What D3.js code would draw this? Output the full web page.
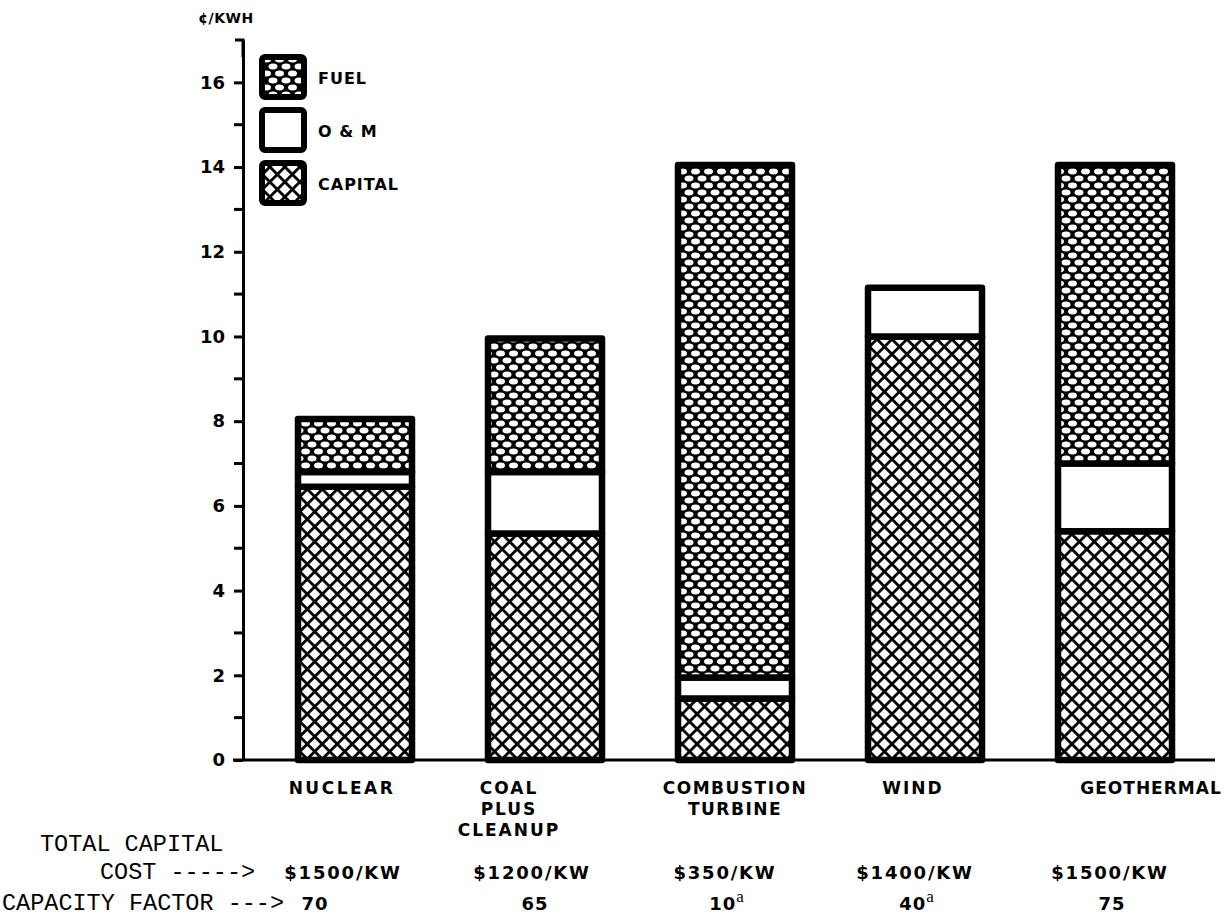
<!DOCTYPE html>
<html>
<head>
<meta charset="utf-8">
<script src="https://cdn.jsdelivr.net/npm/d3@7"></script>
<style>
  html, body { margin: 0; padding: 0; background: #fff; }
  svg { display: block; }
  .sans { font-family: "DejaVu Sans", "Liberation Sans", sans-serif; font-weight: bold; }
  .mono { font-family: "Liberation Mono", "DejaVu Sans Mono", monospace; }
</style>
</head>
<body>
<svg id="chart" width="1228" height="919"></svg>
<script>
// ---------------- data ----------------
const categories = ["NUCLEAR", "COAL PLUS CLEANUP", "COMBUSTION TURBINE", "WIND", "GEOTHERMAL"];
const categoryLines = [["NUCLEAR"], ["COAL", "PLUS", "CLEANUP"], ["COMBUSTION", "TURBINE"], ["WIND"], ["GEOTHERMAL"]];
const capital = [6.45, 5.35, 1.45, 10.0, 5.4];
const om      = [0.35, 1.45, 0.5, 1.15, 1.6];
const fuel    = [1.25, 3.15, 12.1, 0, 7.05];
const seriesKeys = ["capital", "om", "fuel"];
const legendLabels = ["FUEL", "O & M", "CAPITAL"];
const legendKeys = ["fuel", "om", "capital"];
const yTickValues = [0, 2, 4, 6, 8, 10, 12, 14, 16];
const yMinorTicks = [1, 3, 5, 7, 9, 11, 13, 15];
const capitalCost = ["$1500/KW", "$1200/KW", "$350/KW", "$1400/KW", "$1500/KW"];
const capacityFactor = ["70", "65", "10", "40", "75"];
const capacityNote = ["", "", "a", "a", ""];
const unitLabel = "\u00A2/KWH";

// ---------------- layout ----------------
const labelOffset = [-13, -36, 0, -12, 36];
const labelSpacing = [2.5, 2, 1.5, 2, 1];
const costOffset = [-12, -13, -10, -10, -5];
const cfOffset = [-40, -10, -8, -8, -3];

const svg = d3.select("#chart");
svg.append("rect").attr("width", 1228).attr("height", 919).attr("fill", "#fff");

const x = d3.scaleBand().domain(categories).range([260, 1210]).paddingInner(0.4).paddingOuter(0.2);
const y = d3.scaleLinear().domain([0, 17]).range([760, 40]);

// ---------------- patterns ----------------
const defs = svg.append("defs");
const pf = defs.append("pattern").attr("id", "pFuel").attr("patternUnits", "userSpaceOnUse")
  .attr("width", 13).attr("height", 14);
pf.append("rect").attr("width", 13).attr("height", 14).attr("fill", "#000");
[[6.5, 3.5], [0, 10.5], [13, 10.5]].forEach(([cx, cy]) => {
  pf.append("ellipse").attr("cx", cx).attr("cy", cy).attr("rx", 4.5).attr("ry", 2.9).attr("fill", "#fff");
});
const pc = defs.append("pattern").attr("id", "pCap").attr("patternUnits", "userSpaceOnUse")
  .attr("width", 10.6).attr("height", 10.6).attr("patternTransform", "rotate(45)");
pc.append("rect").attr("width", 10.6).attr("height", 10.6).attr("fill", "#fff");
pc.append("rect").attr("x", 0).attr("y", 0).attr("width", 2.8).attr("height", 10.6).attr("fill", "#000");
pc.append("rect").attr("x", 0).attr("y", 0).attr("width", 10.6).attr("height", 2.8).attr("fill", "#000");
const fills = { fuel: "url(#pFuel)", om: "#fff", capital: "url(#pCap)" };

// ---------------- bars ----------------
const rows = categories.map((c, i) => ({ cat: c, capital: capital[i], om: om[i], fuel: fuel[i] }));
const stacked = d3.stack().keys(seriesKeys)(rows);

const g = svg.append("g");
stacked.forEach(layer => {
  g.selectAll(null).data(layer.filter(d => d[1] - d[0] > 0)).enter().append("rect")
    .attr("x", d => x(d.data.cat))
    .attr("y", d => y(d[1]))
    .attr("width", x.bandwidth())
    .attr("height", d => y(d[0]) - y(d[1]))
    .attr("fill", fills[layer.key])
    .attr("stroke", "#000")
    .attr("stroke-width", 6.5)
    .attr("stroke-linejoin", "round");
});

// ---------------- axes ----------------
const axisX = 243;
const yAxis = svg.append("g").attr("transform", `translate(${axisX},0)`)
  .call(d3.axisLeft(y).tickValues(yTickValues).tickSize(9).tickSizeOuter(0).tickFormat(d3.format("d")));
yAxis.select(".domain").attr("stroke", "#000").attr("stroke-width", 3);
yAxis.selectAll(".tick line").attr("stroke", "#000").attr("stroke-width", 3);
yAxis.selectAll(".tick text").attr("class", "sans").attr("font-size", 18).attr("fill", "#000").attr("x", -18);
yAxis.selectAll(null).data(yMinorTicks).enter().append("line")
  .attr("x1", -9).attr("x2", 0).attr("y1", d => y(d)).attr("y2", d => y(d))
  .attr("stroke", "#000").attr("stroke-width", 3);
// top hook
svg.append("path").attr("d", `M${axisX - 8},${y(17)} L${axisX},${y(17)} L${axisX},${y(16.6)}`)
  .attr("fill", "none").attr("stroke", "#000").attr("stroke-width", 3);

// x baseline
svg.append("line").attr("x1", 233).attr("x2", 1215).attr("y1", y(0)).attr("y2", y(0))
  .attr("stroke", "#000").attr("stroke-width", 3);

svg.append("text").attr("class", "sans").attr("x", 226).attr("y", 23).attr("text-anchor", "middle")
  .attr("font-size", 14).attr("letter-spacing", 0.5).text(unitLabel);

// ---------------- legend ----------------
const lg = svg.append("g");
legendKeys.forEach((k, i) => {
  const top = 57 + i * 53;
  lg.append("rect").attr("x", 262).attr("y", top).attr("width", 42).attr("height", 40)
    .attr("rx", 3).attr("fill", fills[k]).attr("stroke", "#000").attr("stroke-width", 6);
  lg.append("text").attr("class", "sans").attr("x", 318).attr("y", top + 27)
    .attr("font-size", 16).attr("letter-spacing", 1).text(legendLabels[i]);
});

// ---------------- category labels ----------------
categories.forEach((c, i) => {
  const cx = x(c) + x.bandwidth() / 2 + labelOffset[i];
  categoryLines[i].forEach((line, j) => {
    svg.append("text").attr("class", "sans").attr("x", cx).attr("y", 794 + j * 21)
      .attr("text-anchor", "middle").attr("font-size", 17).attr("letter-spacing", labelSpacing[i]).text(line);
  });
});

// ---------------- bottom rows ----------------
svg.append("text").attr("class", "mono").attr("x", 40).attr("y", 851).attr("font-size", 23.5).text("TOTAL CAPITAL");
svg.append("text").attr("class", "mono").attr("x", 100).attr("y", 879).attr("font-size", 23.5).attr("xml:space", "preserve").text("COST ----->");
svg.append("text").attr("class", "mono").attr("x", 2).attr("y", 910).attr("font-size", 23.5).attr("xml:space", "preserve").text("CAPACITY FACTOR --->");

categories.forEach((c, i) => {
  const cx = x(c) + x.bandwidth() / 2;
  svg.append("text").attr("class", "sans").attr("x", cx + costOffset[i]).attr("y", 879)
    .attr("text-anchor", "middle").attr("font-size", 18).attr("letter-spacing", 1.8).text(capitalCost[i]);
  const t = svg.append("text").attr("class", "sans").attr("x", cx + cfOffset[i]).attr("y", 910)
    .attr("text-anchor", "middle").attr("font-size", 18).attr("letter-spacing", 1);
  t.append("tspan").text(capacityFactor[i]);
  if (capacityNote[i]) {
    t.append("tspan").attr("dy", -8).attr("font-size", 17).attr("font-weight", "normal")
      .attr("font-family", "Liberation Serif, serif").text(capacityNote[i]);
  }
});
</script>
</body>
</html>
